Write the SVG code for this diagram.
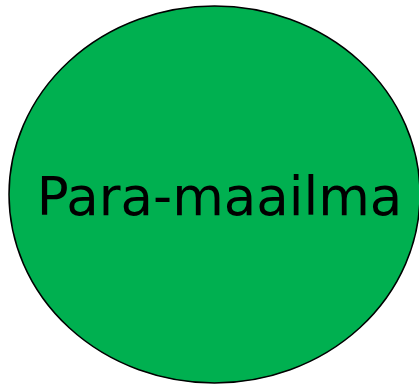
<svg xmlns="http://www.w3.org/2000/svg" width="419" height="384" viewBox="0 0 419 384">
<style>
.node-shape{fill:#00B050;stroke:#000;stroke-width:1.5}
.label{font-family:"DejaVu Sans",sans-serif;font-size:53px;fill:#000;text-anchor:middle}
</style>
<rect width="419" height="384" fill="#fff"/>
<g id="node-para-maailma">
<ellipse class="node-shape" cx="214.5" cy="194.5" rx="205.5" ry="188.5"/>
<text class="label" x="219.5" y="215">Para-maailma</text>
</g>
<g id="connectors"></g>
</svg>
